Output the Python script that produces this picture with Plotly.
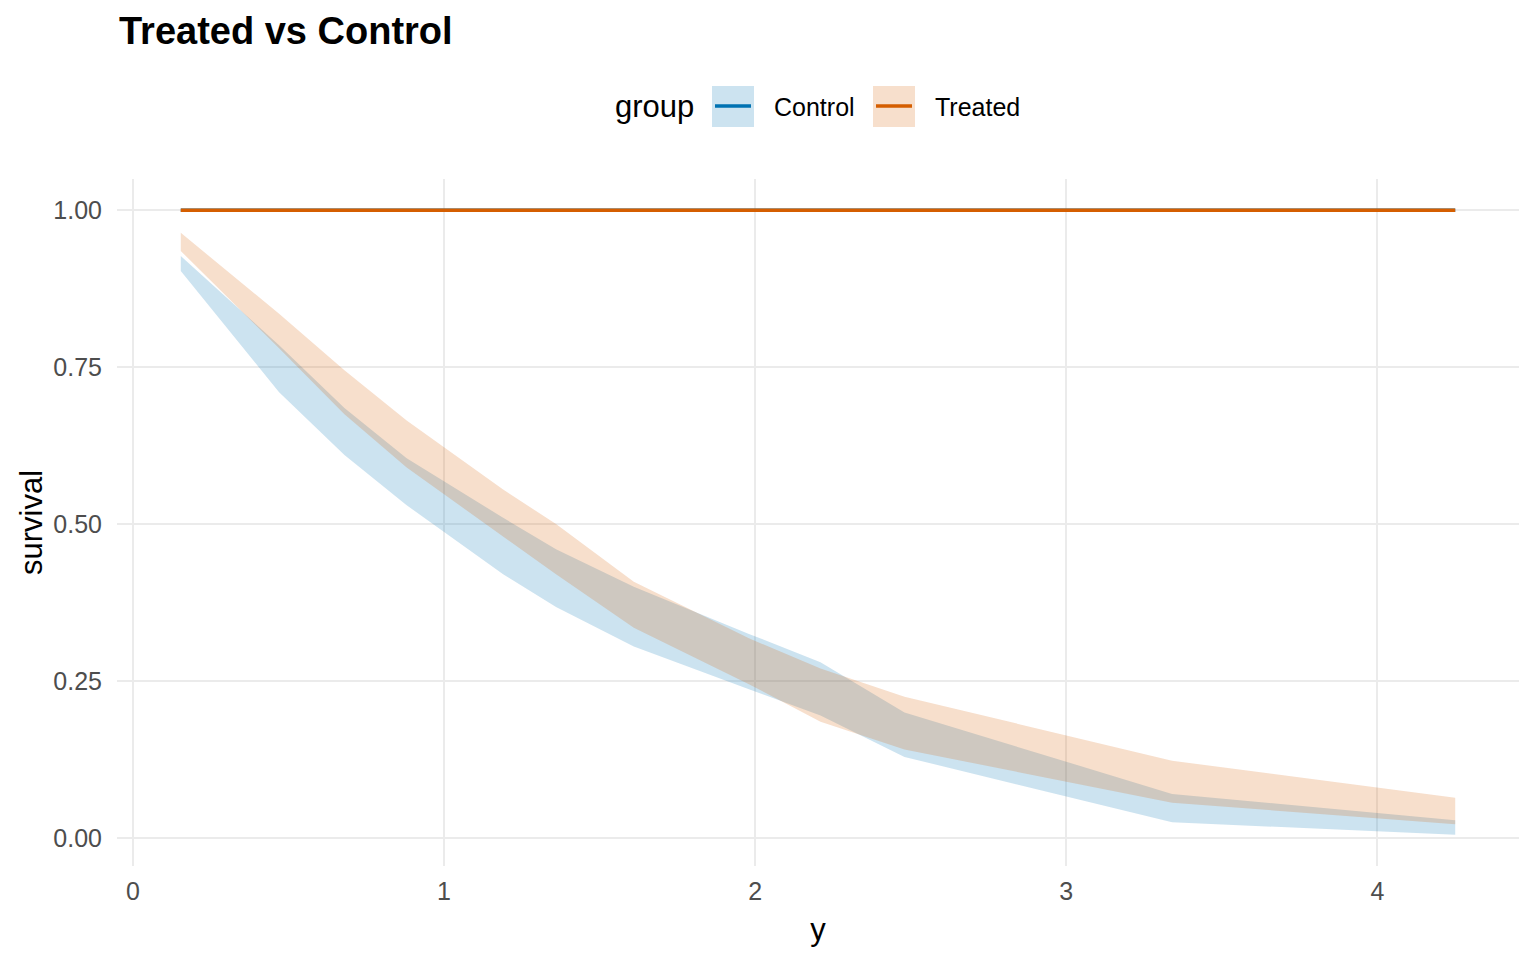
import plotly.graph_objects as go

# ---- data ----
x_vals = [0.154, 0.47, 0.68, 0.88, 1.19, 1.36, 1.61, 1.98, 2.21, 2.48, 3.34, 4.25]
control_upper = [0.927, 0.785, 0.685, 0.605, 0.51, 0.46, 0.40, 0.325, 0.28, 0.20, 0.07, 0.028]
control_lower = [0.903, 0.71, 0.61, 0.53, 0.42, 0.368, 0.305, 0.237, 0.195, 0.129, 0.025, 0.005]
treated_upper = [0.964, 0.835, 0.745, 0.665, 0.555, 0.50, 0.408, 0.318, 0.27, 0.225, 0.123, 0.064]
treated_lower = [0.935, 0.78, 0.675, 0.59, 0.48, 0.42, 0.335, 0.245, 0.185, 0.141, 0.056, 0.022]
control_line = [1.0, 1.0, 1.0, 1.0, 1.0, 1.0, 1.0, 1.0, 1.0, 1.0, 1.0, 1.0]
treated_line = [1.0, 1.0, 1.0, 1.0, 1.0, 1.0, 1.0, 1.0, 1.0, 1.0, 1.0, 1.0]
groups = ["Control", "Treated"]
x_ticks = [0, 1, 2, 3, 4]
x_tick_labels = ["0", "1", "2", "3", "4"]
y_ticks = [0, 0.25, 0.5, 0.75, 1.0]
y_tick_labels = ["0.00", "0.25", "0.50", "0.75", "1.00"]

# ---- styling ----
W, H = 1536, 960
OFF = 8  # page body margin offset compensation
PL, PT, PW, PH = 117, 179, 1402, 687  # target plot area in screenshot pixels
ML, MT = PL - OFF, PT - OFF
MR = W - ML - PW
MB = H - MT - PH
line_colors = {"Control": "#0072B2", "Treated": "#D55E00"}
fill_colors = {"Control": "rgba(0,114,178,0.2)", "Treated": "rgba(213,94,0,0.2)"}
FONT = "Liberation Sans, Arial, sans-serif"

ribbons = {"Control": (control_upper, control_lower), "Treated": (treated_upper, treated_lower)}
lines = {"Control": control_line, "Treated": treated_line}

fig = go.Figure()
for g in groups:
    up, lo = ribbons[g]
    fig.add_trace(go.Scatter(
        x=x_vals + x_vals[::-1], y=up + lo[::-1], fill="toself",
        fillcolor=fill_colors[g], line=dict(width=0), mode="lines",
        hoverinfo="skip", showlegend=False, name=g + " interval"))
for g in groups:
    fig.add_trace(go.Scatter(
        x=x_vals, y=lines[g], mode="lines",
        line=dict(color=line_colors[g], width=3.5), showlegend=False, name=g))

def px_x(p):
    return (p - PL) / PW
def px_y(p):
    return (PT + PH - p) / PH

shapes = []
annotations = []
# ggplot-style legend: title, ribbon-coloured key boxes with line, labels
annotations.append(dict(text="group", x=px_x(613), y=px_y(107), xref="paper", yref="paper",
                        xanchor="left", yanchor="middle", showarrow=False,
                        font=dict(family=FONT, size=31, color="black")))
key_left = {"Control": 712, "Treated": 873}
text_left = {"Control": 772, "Treated": 933}
for g in groups:
    kl = key_left[g]
    shapes.append(dict(type="rect", xref="paper", yref="paper",
                       x0=px_x(kl), x1=px_x(kl + 42), y0=px_y(127), y1=px_y(86),
                       fillcolor=fill_colors[g], line=dict(width=0), layer="above"))
    shapes.append(dict(type="line", xref="paper", yref="paper",
                       x0=px_x(kl + 3), x1=px_x(kl + 39), y0=px_y(106), y1=px_y(106),
                       line=dict(color=line_colors[g], width=3.5), layer="above"))
    annotations.append(dict(text=g, x=px_x(text_left[g]), y=px_y(107), xref="paper", yref="paper",
                            xanchor="left", yanchor="middle", showarrow=False,
                            font=dict(family=FONT, size=25, color="black")))

fig.update_layout(
    width=W, height=H,
    margin=dict(l=ML, r=MR, t=MT, b=MB, pad=0),
    paper_bgcolor="white", plot_bgcolor="white",
    title=dict(text="<b>Treated vs Control</b>", xref="container", yref="container",
               x=(119 - OFF) / W, xanchor="left", y=1 - (31 - OFF) / H, yanchor="middle",
               font=dict(family=FONT, size=38, color="black")),
    xaxis=dict(range=[-0.051, 4.455], tickvals=x_ticks, ticktext=x_tick_labels,
               showgrid=True, gridcolor="#EBEBEB", gridwidth=2, zeroline=False, showline=False,
               ticks="", ticklabelstandoff=8, tickfont=dict(family=FONT, size=25, color="#4D4D4D"),
               title=dict(text="y", font=dict(family=FONT, size=31, color="black"), standoff=14)),
    yaxis=dict(range=[-0.0447, 1.0497], tickvals=y_ticks, ticktext=y_tick_labels,
               showgrid=True, gridcolor="#EBEBEB", gridwidth=2, zeroline=False, showline=False,
               ticks="", ticklabelstandoff=14, tickfont=dict(family=FONT, size=25, color="#4D4D4D"),
               title=dict(text="survival", font=dict(family=FONT, size=31, color="black"), standoff=1)),
    shapes=shapes, annotations=annotations, showlegend=False,
)

fig.write_html("out.html")
